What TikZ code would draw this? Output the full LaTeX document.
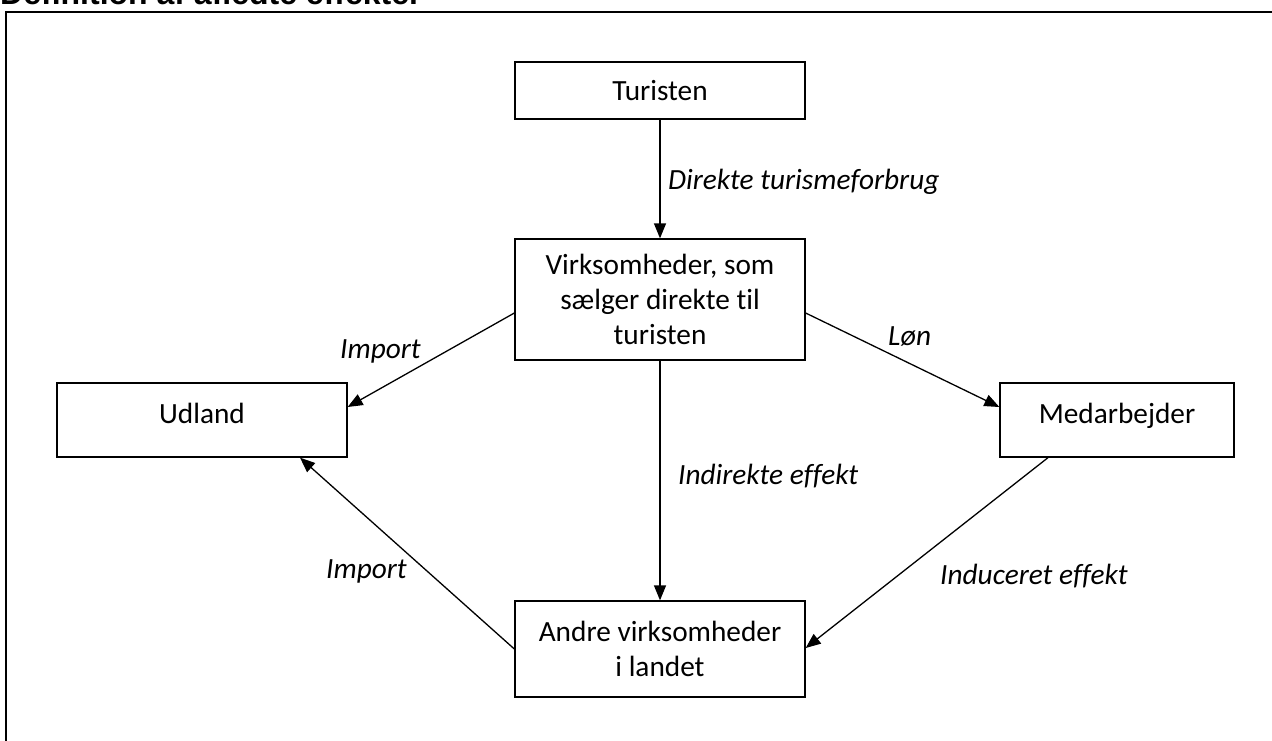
\documentclass[tikz,border=0pt]{standalone}
\usepackage{fontspec}
\setmainfont{Carlito}[Ligatures=NoCommon]
\newfontfamily\titlefont{Liberation Sans}
\usetikzlibrary{arrows.meta,calc}
\begin{document}
\begin{tikzpicture}[x=1pt,y=-1pt,
  box/.style={draw, line width=1.3pt, minimum width=290pt, inner sep=0pt, font=\fontsize{29.3}{35}\selectfont, align=center},
  lbl/.style={font=\fontsize{29.3}{35}\selectfont\itshape, inner sep=0pt, anchor=base west},
  arr/.style={line width=1.3pt, -{Triangle[length=15pt,width=12pt]}}]
\clip (0,0) rectangle (1272,740);
\useasboundingbox (0,0) rectangle (1272,740);
\fill[white] (0,0) rectangle (1272,740);
\node[anchor=base west, inner sep=0pt, font=\titlefont\bfseries\fontsize{32}{38}\selectfont] (title) at (0,4) {Definition af afledte effekter};
\draw[line width=1.6pt] (1274,12) -- (6,12) -- (6,742);
% boxes
\node[box, minimum height=57pt, text height=21pt, text depth=2pt] (tur) at (660,90.5) {Turisten};
\node[box, minimum height=121pt] (virk) at (660,299.5) {Virksomheder, som\\sælger direkte til\\turisten};
\node[box, minimum height=74pt, text height=21pt, text depth=15pt] (udl) at (202,420) {Udland};
\node[box, minimum width=234pt, minimum height=74pt, text height=21pt, text depth=15pt] (med) at (1117,420) {Medarbejder};
\node[box, minimum height=96pt] (andre) at (660,649) {Andre virksomheder\\i landet};
% connectors
\draw[arr] (tur) -- (virk);
\draw[arr] (virk) -- (andre);
\draw[arr] ($(virk.west)+(0,13.5)$) -- ($(udl.east)+(0,-13)$);
\draw[arr] ($(virk.east)+(0,13.5)$) -- ($(med.west)+(0,-13)$);
\draw[arr] ($(med.south)+(-69,0)$) -- ($(andre.east)+(0,-1)$);
\draw[arr] (andre.west) -- ($(udl.south)+(98,0)$);
% labels
\node[lbl] (ldir) at (668,189) {Direkte turismeforbrug};
\node[lbl] (llon) at (888,345) {Løn};
\node[lbl] (limp1) at (340,358) {Import};
\node[lbl] (limp2) at (326,578) {Import};
\node[lbl] (lind) at (678,484) {Indirekte effekt};
\node[lbl] (linduc) at (940,584) {Induceret effekt};
\end{tikzpicture}
\end{document}
